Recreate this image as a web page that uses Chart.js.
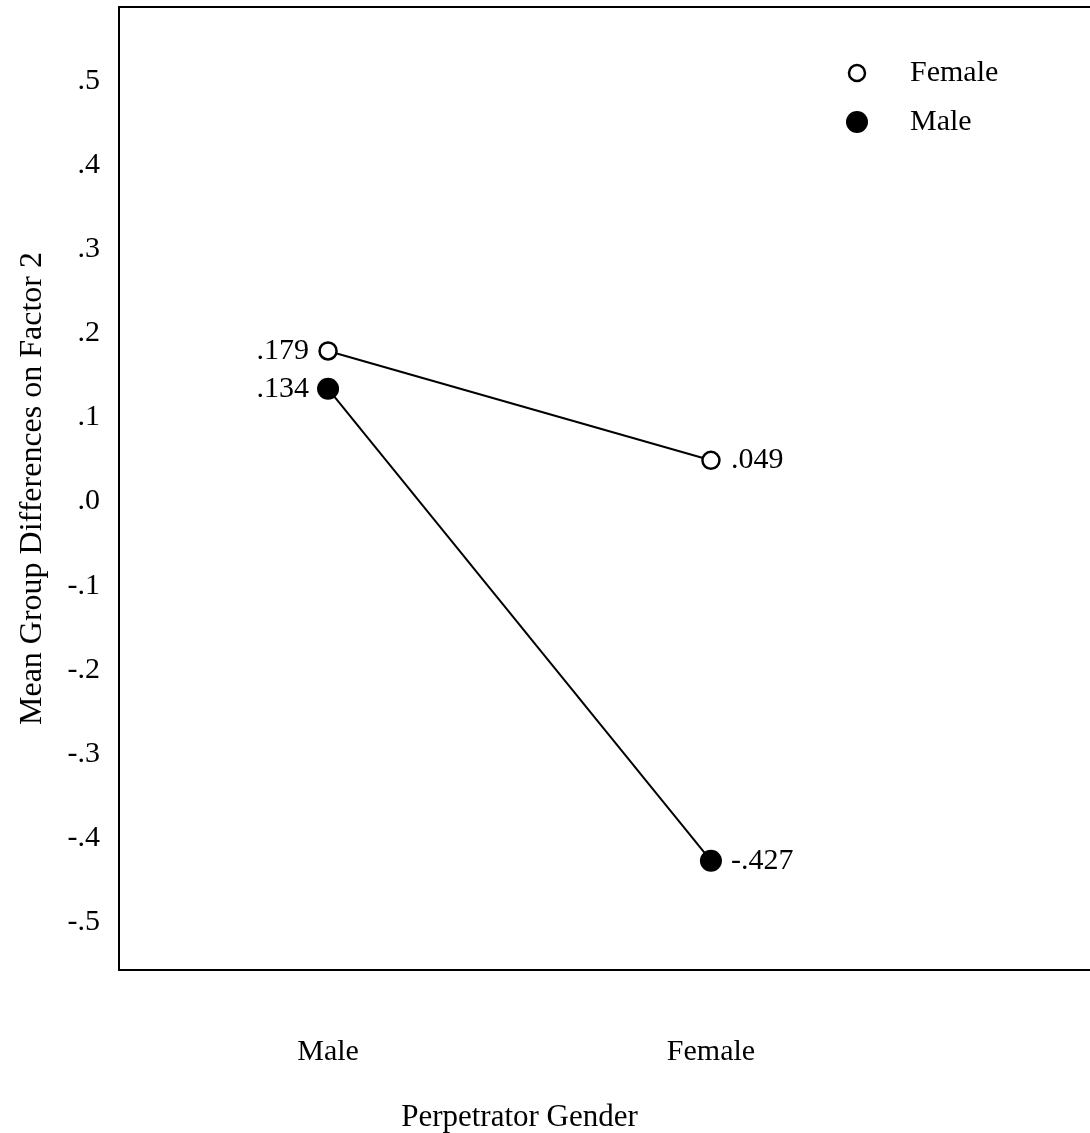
<!DOCTYPE html>
<html>
<head>
<meta charset="utf-8">
<script src="https://cdn.jsdelivr.net/npm/chart.js@4.4.0/dist/chart.umd.min.js"></script>
<style>
    html, body { margin: 0; padding: 0; background: #fff; }
    #wrap { width: 1090px; height: 1133px; }
</style>
</head>
<body>
<div id="wrap"><canvas id="factorChart"></canvas></div>
<script>
// perpetrator gender on the x axis, respondent gender as series
const categories = ['Male', 'Female'];
const femaleMeans = [0.179, 0.049];
const maleMeans = [0.134, -0.427];
const yTicks = [-0.5, -0.4, -0.3, -0.2, -0.1, 0, 0.1, 0.2, 0.3, 0.4, 0.5];
const yTickLabels = ['-.5', '-.4', '-.3', '-.2', '-.1', '.0', '.1', '.2', '.3', '.4', '.5'];
const xTitle = 'Perpetrator Gender';

const serif = "'Liberation Serif', 'Times New Roman', serif";

function fmt(v) {
    return v.toFixed(3).replace('0.', '.');
}

function toPoints(values) {
    return values.map((v, i) => ({ x: i, y: v }));
}

// value labels next to each marker
const valueLabels = {
    id: 'valueLabels',
    afterDatasetsDraw(chart) {
        const ctx = chart.ctx;
        ctx.save();
        ctx.font = '30px ' + serif;
        ctx.fillStyle = '#000';
        ctx.textBaseline = 'middle';
        chart.data.datasets.forEach((ds, di) => {
            const meta = chart.getDatasetMeta(di);
            meta.data.forEach((pt, i) => {
                const text = fmt(ds.data[i].y);
                if (i === 0) {
                    ctx.textAlign = 'right';
                    ctx.fillText(text, pt.x - 19, pt.y);
                } else {
                    ctx.textAlign = 'left';
                    ctx.fillText(text, pt.x + 20, pt.y);
                }
            });
        });
        ctx.restore();
    }
};

// top edge of the frame, and the x title centred between the categories
const frameExtras = {
    id: 'frameExtras',
    afterDraw(chart) {
        const { ctx, chartArea } = chart;
        const xs = chart.scales.x;
        ctx.save();
        ctx.strokeStyle = '#000';
        ctx.lineWidth = 2;
        ctx.beginPath();
        ctx.moveTo(chartArea.left - 1, chartArea.top);
        ctx.lineTo(chartArea.right, chartArea.top);
        ctx.stroke();

        const mid = (xs.getPixelForValue(0) + xs.getPixelForValue(categories.length - 1)) / 2;
        ctx.font = '31px ' + serif;
        ctx.fillStyle = '#000';
        ctx.textAlign = 'center';
        ctx.textBaseline = 'middle';
        ctx.fillText(xTitle, mid, xs.bottom - 15);
        ctx.restore();
    }
};

// legend in the upper right corner of the plot
const cornerLegend = {
    id: 'cornerLegend',
    afterDraw(chart) {
        const { ctx, chartArea } = chart;
        const x = chartArea.right - 233;
        let y = chartArea.top + 66;
        ctx.save();
        ctx.font = '30px ' + serif;
        ctx.textAlign = 'left';
        ctx.textBaseline = 'middle';
        chart.data.datasets.forEach(ds => {
            ctx.beginPath();
            ctx.arc(x, y, ds.legendRadius, 0, Math.PI * 2);
            ctx.fillStyle = ds.pointBackgroundColor;
            ctx.fill();
            if (ds.pointBorderWidth) {
                ctx.lineWidth = ds.pointBorderWidth;
                ctx.strokeStyle = ds.pointBorderColor;
                ctx.stroke();
            }
            ctx.fillStyle = '#000';
            ctx.fillText(ds.label, x + 53, y);
            y += 49;
        });
        ctx.restore();
    }
};

new Chart(document.getElementById('factorChart'), {
    type: 'line',
    data: {
        datasets: [
            {
                label: 'Female',
                data: toPoints(femaleMeans),
                borderColor: '#000',
                borderWidth: 2,
                pointRadius: 8.5,
                pointBorderWidth: 2.5,
                pointBorderColor: '#000',
                pointBackgroundColor: '#fff',
                legendRadius: 8,
                tension: 0
            },
            {
                label: 'Male',
                data: toPoints(maleMeans),
                borderColor: '#000',
                borderWidth: 2,
                pointRadius: 11,
                pointBorderWidth: 0,
                pointBorderColor: '#000',
                pointBackgroundColor: '#000',
                legendRadius: 11,
                tension: 0
            }
        ]
    },
    options: {
        responsive: true,
        maintainAspectRatio: false,
        animation: false,
        layout: { autoPadding: false, padding: { top: 7, right: 0, left: 0, bottom: 0 } },
        plugins: {
            legend: { display: false },
            tooltip: { enabled: false }
        },
        scales: {
            x: {
                type: 'linear',
                min: -0.546,
                max: 1.99,
                afterFit(scale) {
                    scale.height = 163;
                    scale.paddingLeft = 0;
                    scale.paddingRight = 0;
                },
                afterBuildTicks(scale) {
                    scale.ticks = categories.map((c, i) => ({ value: i }));
                },
                grid: { display: false, drawTicks: false },
                border: { display: true, color: '#000', width: 2 },
                ticks: {
                    padding: 64,
                    color: '#000',
                    font: { family: serif, size: 30 },
                    callback: (v, i) => categories[i]
                }
            },
            y: {
                min: -0.557,
                max: 0.588,
                afterFit(scale) {
                    scale.width = 119;
                    scale.paddingTop = 0;
                    scale.paddingBottom = 0;
                },
                afterBuildTicks(scale) {
                    scale.ticks = yTicks.map(v => ({ value: v }));
                },
                grid: { display: false, drawTicks: false },
                border: { display: true, color: '#000', width: 2 },
                ticks: {
                    padding: 19,
                    color: '#000',
                    font: { family: serif, size: 30 },
                    callback: (v, i) => yTickLabels[i]
                },
                title: {
                    display: true,
                    text: 'Mean Group Differences on Factor 2',
                    color: '#000',
                    font: { family: serif, size: 32 },
                    padding: { top: 13, bottom: 0 }
                }
            }
        }
    },
    plugins: [valueLabels, frameExtras, cornerLegend]
});
</script>
</body>
</html>
